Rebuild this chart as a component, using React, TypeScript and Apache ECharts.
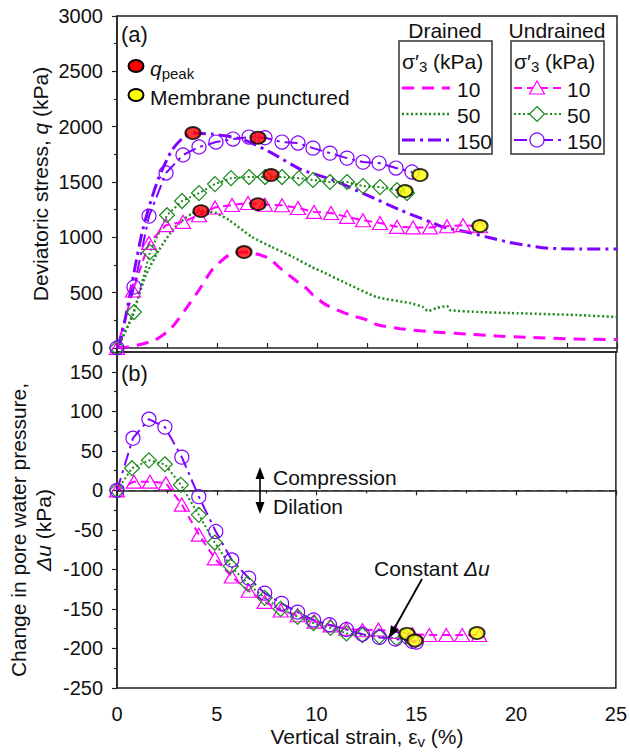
import React, { useEffect, useRef } from 'react';
import * as echarts from 'echarts';

// ---------- DATA (strain %, value) ----------
const drained10Q: [number, number][] = [
  [0, 0], [0.5, 8], [1.0, 25], [1.9, 72], [2.5, 145], [2.85, 208], [3.4, 343], [4.1, 524], [4.75, 705],
  [5.6, 840], [6.4, 868], [7.1, 845], [7.65, 805], [8.1, 731], [9.1, 587], [9.5, 535], [9.8, 478],
  [10.5, 385], [11.65, 298], [12.5, 253], [13.0, 210], [14.15, 175], [15.8, 145], [17.5, 126],
  [19.0, 108], [20.5, 97], [23.0, 81], [25.0, 76],
];
const drained50Q: [number, number][] = [
  [0, 0], [0.15, 45], [0.75, 280], [1.4, 641], [2.1, 885], [2.9, 1093], [3.75, 1215], [4.4, 1240],
  [5.0, 1215], [5.6, 1156], [6.75, 1003], [7.75, 912], [8.8, 822], [9.75, 731], [10.3, 686],
  [11.65, 569], [13.0, 460], [14.65, 406], [15.3, 370], [15.55, 334], [16.0, 362], [16.5, 379],
  [16.65, 343], [18.15, 325], [19.65, 316], [23.0, 298], [25.0, 280],
];
const drained150Q: [number, number][] = [
  [0, 0], [0.15, 45], [0.5, 343], [0.9, 730], [1.25, 1040], [1.6, 1274], [2.1, 1545], [2.75, 1789],
  [3.3, 1900], [3.8, 1942], [4.75, 1933], [5.5, 1915], [6.4, 1879], [7.75, 1761], [9.15, 1617],
  [10.8, 1518], [12.5, 1382], [14.15, 1247], [15.15, 1175], [15.8, 1129], [16.3, 1093], [17.5, 1048],
  [18.5, 1003], [19.8, 948], [21.5, 903], [23.15, 894], [25.0, 894],
];
const undrained10Q: [number, number][] = [
  [0, 0], [0.8, 520], [1.6, 950], [2.45, 1110], [3.3, 1140], [4.1, 1200], [4.9, 1270], [5.75, 1292],
  [6.55, 1310], [7.4, 1295], [8.25, 1290], [9.05, 1265], [9.85, 1230], [10.7, 1220], [11.5, 1185],
  [12.3, 1155], [13.15, 1130], [14.0, 1095], [14.8, 1090], [15.65, 1090], [16.5, 1100], [17.3, 1110],
  [18.15, 1100],
];
const undrained50Q: [number, number][] = [
  [0, 0], [0.85, 325], [1.65, 867], [2.5, 1200], [3.25, 1328], [4.1, 1400], [4.9, 1481], [5.7, 1535],
  [6.6, 1545], [7.4, 1545], [8.25, 1545], [9.1, 1535], [9.8, 1518], [10.65, 1500], [11.5, 1500],
  [12.3, 1463], [13.15, 1454], [14.0, 1427], [14.5, 1400],
];
const undrained150Q: [number, number][] = [
  [0, 0], [0.85, 551], [1.6, 1192], [2.45, 1581], [3.3, 1744], [4.1, 1816], [4.95, 1861], [5.8, 1888],
  [6.6, 1906], [7.4, 1900], [8.25, 1861], [9.05, 1852], [9.8, 1806], [10.65, 1761], [11.5, 1716],
  [12.3, 1680], [13.1, 1671], [13.95, 1626], [14.75, 1590],
];
const peakQ: [number, number][] = [
  [6.35, 867], [4.2, 1237], [3.8, 1942], [7.05, 1300], [7.7, 1563], [7.05, 1900],
];
const puncturedQ: [number, number][] = [[18.15, 1102], [14.4, 1418], [15.15, 1563]];

const undrained10U: [number, number][] = [
  [0, 0], [0.85, 11], [1.65, 11], [2.45, 9], [3.25, -18], [4.1, -56], [4.9, -86], [5.75, -109],
  [6.6, -127], [7.4, -141], [8.2, -152], [9.05, -158], [9.9, -166], [10.7, -171], [11.5, -175],
  [12.3, -177], [13.1, -176], [13.95, -179], [14.8, -182], [15.65, -183], [16.5, -183], [17.3, -183],
  [18.15, -183],
];
const undrained50U: [number, number][] = [
  [0, 0], [0.75, 28], [1.6, 38], [2.4, 33], [3.2, 7], [4.1, -31], [4.9, -66], [5.7, -96], [6.55, -118],
  [7.4, -136], [8.2, -150], [9.05, -160], [9.85, -168], [10.7, -174], [11.5, -181], [12.3, -183],
  [13.15, -185], [14.0, -187], [14.45, -185],
];
const undrained150U: [number, number][] = [
  [0, 0], [0.8, 66], [1.6, 90], [2.4, 80], [3.25, 42], [4.1, -8], [4.95, -52], [5.75, -88], [6.6, -111],
  [7.4, -130], [8.25, -143], [9.05, -154], [9.85, -164], [10.65, -170], [11.5, -176], [12.3, -182],
  [13.15, -186], [13.95, -188], [14.8, -191], [15.0, -192],
];
const puncturedU: [number, number][] = [[14.53, -181.5], [14.93, -190], [18.04, -180.5]];

// ---------- STYLE ----------
const FONT = '"Liberation Sans", Arial, Helvetica, sans-serif';
const C10 = '#ff00ff';
const C50 = '#1b8a1b';
const C150 = '#7f00ff';
const DASH10 = [12, 8];
const DOT50 = [2, 2.5];
const DD150 = [13, 5, 3, 5];
const AX = '#222';
const TXT = '#111';
const FS = 21;

function drainedLine(data: [number, number][], color: string, dash: number[], width: number) {
  return {
    type: 'line', xAxisIndex: 0, yAxisIndex: 0, data, symbol: 'none', showSymbol: false,
    smooth: 0.2, lineStyle: { color, width, type: dash }, z: 2, silent: true,
  };
}
function undrainedLine(data: [number, number][], axis: number, color: string, dash: number[],
  symbol: string, size: any, extra: any = {}) {
  return {
    type: 'line', xAxisIndex: axis, yAxisIndex: axis, data, symbol, symbolSize: size,
    showSymbol: true, showAllSymbol: true,
    itemStyle: { color: 'rgba(255,255,255,0)', borderColor: color, borderWidth: 1.2 },
    lineStyle: { color, width: 2, type: dash }, z: 3, silent: true, ...extra,
  };
}
function dots(data: [number, number][], axis: number, color: string) {
  return {
    type: 'scatter', xAxisIndex: axis, yAxisIndex: axis, data, symbol: 'circle', symbolSize: [15, 12],
    itemStyle: { color, borderColor: '#000', borderWidth: 2 }, z: 6, silent: true,
  };
}

function txt(x: number, y: number, text: string, extra: any = {}, rich?: any) {
  return {
    type: 'text', x, y, z: 20, silent: true,
    style: {
      text, fontSize: FS, fontFamily: FONT, fill: TXT, align: 'left', verticalAlign: 'middle',
      ...(rich ? { rich } : {}), ...extra,
    },
  };
}
const richBase = {
  n: { fontSize: FS, fontFamily: FONT, fill: TXT, lineHeight: 26 },
  i: { fontSize: FS, fontFamily: FONT, fill: TXT, fontStyle: 'italic', lineHeight: 26 },
  sub: { fontSize: 15, fontFamily: FONT, fill: TXT, lineHeight: 12, verticalAlign: 'bottom' },
};

function seg(x1: number, y1: number, x2: number, y2: number, stroke: string, w: number, dash?: number[]) {
  return {
    type: 'line', z: 20, silent: true, shape: { x1, y1, x2, y2 },
    style: { stroke, lineWidth: w, ...(dash ? { lineDash: dash } : {}) },
  };
}
function tri(cx: number, cy: number, color: string) {
  return {
    type: 'polygon', z: 21, silent: true,
    shape: { points: [[cx, cy - 7], [cx + 7.5, cy + 6], [cx - 7.5, cy + 6]] },
    style: { fill: '#fff', stroke: color, lineWidth: 1.2 },
  };
}
function dia(cx: number, cy: number, color: string) {
  return {
    type: 'polygon', z: 21, silent: true,
    shape: { points: [[cx, cy - 7.5], [cx + 7.5, cy], [cx, cy + 7.5], [cx - 7.5, cy]] },
    style: { fill: '#fff', stroke: color, lineWidth: 1.2 },
  };
}
function circ(cx: number, cy: number, color: string) {
  return {
    type: 'circle', z: 21, silent: true, shape: { cx, cy, r: 7 },
    style: { fill: '#fff', stroke: color, lineWidth: 1.2 },
  };
}
function head(tx: number, ty: number, ux: number, uy: number) {
  const L = 12, W = 4.5;
  const bx = tx - L * ux, by = ty - L * uy;
  const nx = -uy, ny = ux;
  return {
    type: 'polygon', z: 21, silent: true,
    shape: { points: [[tx, ty], [bx + W * nx, by + W * ny], [bx - W * nx, by - W * ny]] },
    style: { fill: '#000' },
  };
}

export default function App() {
  const ref = useRef<HTMLDivElement>(null);
  useEffect(() => {
    if (!ref.current) return;
    const chart = echarts.init(ref.current, null, { renderer: 'svg' });

    const axisLine = { show: true, lineStyle: { color: AX, width: 1.5 } };
    const tickStyle = { color: AX, width: 1.2 };
    const label = { fontSize: 20, fontFamily: FONT, color: TXT, formatter: (v: number) => String(v) };

    const ax1 = 422, ay1 = 579, atx = 389, aty = 638;
    const dl = Math.hypot(atx - ax1, aty - ay1);
    const ux = (atx - ax1) / dl, uy = (aty - ay1) / dl;

    const graphic: any[] = [
      txt(121, 34, '(a)', { fontSize: 22 }),
      txt(121, 373, '(b)', { fontSize: 22 }),
      { type: 'ellipse', z: 21, silent: true, shape: { cx: 136, cy: 66, rx: 7.5, ry: 6 }, style: { fill: '#ff0000', stroke: '#000', lineWidth: 2 } },
      txt(150, 68, '{i|q}{sub|peak}', {}, richBase),
      { type: 'ellipse', z: 21, silent: true, shape: { cx: 136, cy: 95, rx: 7.5, ry: 6 }, style: { fill: '#ffff00', stroke: '#000', lineWidth: 2 } },
      txt(150, 97, 'Membrane punctured'),
      txt(445, 30, 'Drained', { align: 'center' }),
      txt(557, 30, 'Undrained', { align: 'center' }),
      { type: 'rect', z: 19, silent: true, shape: { x: 399, y: 41, width: 93, height: 113 }, style: { fill: '#fff', stroke: '#333', lineWidth: 1.5 } },
      { type: 'rect', z: 19, silent: true, shape: { x: 511, y: 41, width: 93, height: 113 }, style: { fill: '#fff', stroke: '#333', lineWidth: 1.5 } },
      txt(402, 61, '{n|σ′}{sub|3}{n| (kPa)}', {}, richBase),
      txt(514, 61, '{n|σ′}{sub|3}{n| (kPa)}', {}, richBase),
      seg(402, 88, 450, 88, C10, 3, DASH10),
      seg(402, 114, 450, 114, C50, 2.5, DOT50),
      seg(402, 140, 450, 140, C150, 3, DD150),
      txt(457, 89, '10'), txt(457, 115, '50'), txt(457, 141, '150'),
      seg(514, 88, 561, 88, C10, 2, [8, 5]),
      seg(514, 114, 561, 114, C50, 2, DOT50),
      seg(514, 140, 561, 140, C150, 2, DD150),
      tri(537, 88, C10), dia(537, 114, C50), circ(537, 140, C150),
      txt(567, 89, '10'), txt(567, 115, '50'), txt(567, 141, '150'),
      seg(260, 478, 260, 503, '#000', 1.6),
      head(260, 467, 0, -1), head(260, 514, 0, 1),
      txt(273, 477, 'Compression'),
      txt(273, 506, 'Dilation'),
      txt(374, 568, '{n|Constant }{i|Δu}', {}, richBase),
      seg(ax1, ay1, atx - 10 * ux, aty - 10 * uy, '#000', 1.8),
      head(atx, aty, ux, uy),
      { type: 'text', x: 40, y: 184, rotation: Math.PI / 2, z: 20, silent: true,
        style: { text: '{n|Deviatoric stress, }{i|q}{n| (kPa)}', rich: richBase, align: 'center', verticalAlign: 'middle' } },
      { type: 'text', x: 18, y: 530, rotation: Math.PI / 2, z: 20, silent: true,
        style: { text: '{n|Change in pore water pressure,}', rich: richBase, align: 'center', verticalAlign: 'middle' } },
      { type: 'text', x: 43, y: 530, rotation: Math.PI / 2, z: 20, silent: true,
        style: { text: '{i|Δu}{n| (kPa)}', rich: richBase, align: 'center', verticalAlign: 'middle' } },
      { type: 'text', x: 367, y: 736, z: 20, silent: true,
        style: { text: '{n|Vertical strain, ε}{sub|v}{n| (%)}', rich: richBase, align: 'center', verticalAlign: 'middle' } },
    ];

    const option: any = {
      animation: false,
      backgroundColor: '#fff',
      grid: [
        { left: 117, top: 16, width: 500, height: 336, show: true, borderColor: AX, borderWidth: 1.5, backgroundColor: 'transparent' },
        { left: 117, top: 352, width: 500, height: 336, show: true, borderColor: AX, borderWidth: 1.5, backgroundColor: 'transparent' },
      ],
      xAxis: [
        { type: 'value', gridIndex: 0, min: 0, max: 25, interval: 5, axisLine,
          axisTick: { show: true, inside: true, length: 5, lineStyle: tickStyle },
          minorTick: { show: true, splitNumber: 2, length: 5, lineStyle: tickStyle },
          axisLabel: { show: false }, splitLine: { show: false } },
        { type: 'value', gridIndex: 1, min: 0, max: 25, interval: 5, axisLine,
          axisTick: { show: true, inside: false, length: 5, lineStyle: tickStyle },
          minorTick: { show: true, splitNumber: 2, length: 3, lineStyle: tickStyle },
          axisLabel: { ...label, margin: 16 }, splitLine: { show: false } },
      ],
      yAxis: [
        { type: 'value', gridIndex: 0, min: -36, max: 3000, splitNumber: 6, axisLine,
          axisTick: { show: true, inside: false, length: 5, lineStyle: tickStyle },
          minorTick: { show: true, splitNumber: 2, length: 3, lineStyle: tickStyle },
          axisLabel: { ...label, margin: 14, showMinLabel: false }, splitLine: { show: false } },
        { type: 'value', gridIndex: 1, min: -250, max: 175, interval: 50, axisLine,
          axisTick: { show: true, inside: false, length: 5, lineStyle: tickStyle },
          minorTick: { show: true, splitNumber: 2, length: 3, lineStyle: tickStyle },
          axisLabel: { ...label, margin: 14, showMaxLabel: false }, splitLine: { show: false } },
      ],
      series: [
        drainedLine(drained10Q, C10, DASH10, 3),
        drainedLine(drained50Q, C50, DOT50, 2.5),
        drainedLine(drained150Q, C150, DD150, 3),
        undrainedLine(undrained10Q, 0, C10, [8, 5], 'triangle', [15, 13]),
        undrainedLine(undrained50Q, 0, C50, DOT50, 'diamond', [15, 15]),
        undrainedLine(undrained150Q, 0, C150, DD150, 'circle', 14),
        dots(peakQ, 0, '#ff0000'),
        dots(puncturedQ, 0, '#ffff00'),
        undrainedLine(undrained10U, 1, C10, [8, 5], 'triangle', [15, 13], {
          markLine: { silent: true, symbol: ['none', 'none'], label: { show: false },
            lineStyle: { color: '#333', width: 1.2, type: [7, 5] }, data: [{ yAxis: 0 }] },
        }),
        undrainedLine(undrained50U, 1, C50, DOT50, 'diamond', [15, 15]),
        undrainedLine(undrained150U, 1, C150, DD150, 'circle', 14),
        dots(puncturedU, 1, '#ffff00'),
      ],
      graphic,
    };
    chart.setOption(option);
    return () => chart.dispose();
  }, []);
  return <div ref={ref} style={{ position: 'absolute', left: 0, top: 0, width: 630, height: 753 }} />;
}
